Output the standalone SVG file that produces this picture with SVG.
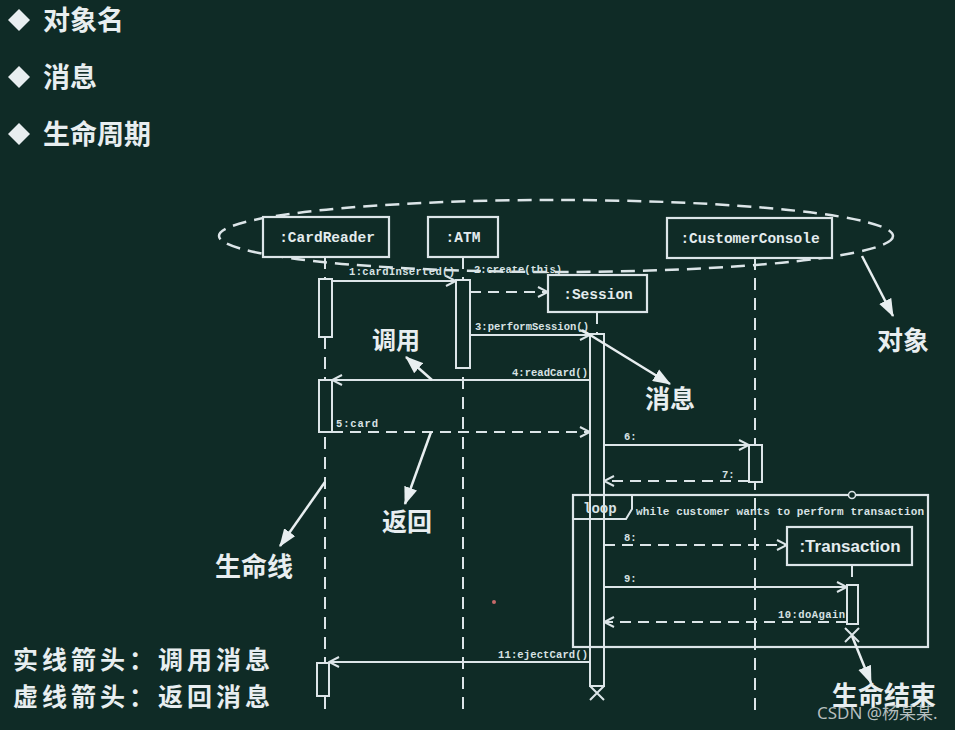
<svg xmlns="http://www.w3.org/2000/svg" width="955" height="730" viewBox="0 0 955 730">
<defs>
<marker id="open" viewBox="0 0 12 12" refX="11" refY="6" markerWidth="12" markerHeight="12" markerUnits="userSpaceOnUse" orient="auto"><path d="M1,1 L11,6 L1,11" fill="none" stroke="#dce5e8" stroke-width="2"/></marker>
<marker id="solidhead" viewBox="0 0 16 12" refX="15" refY="6" markerWidth="18" markerHeight="14" markerUnits="userSpaceOnUse" orient="auto"><path d="M0,0 L16,6 L0,12 z" fill="#e8eef0"/></marker>
<style>
.bg{fill:#0f2b26}
.box{fill:#0f2b26;stroke:#dce5e8;stroke-width:2.2}
.act{fill:#0f2b26;stroke:#dce5e8;stroke-width:2}
.life{stroke:#dce5e8;stroke-width:2;stroke-dasharray:12 8;fill:none}
.call{stroke:#dce5e8;stroke-width:2;fill:none;marker-end:url(#open)}
.ret{stroke:#dce5e8;stroke-width:2;stroke-dasharray:11 7;fill:none;marker-end:url(#open)}
.note{stroke:#e8eef0;stroke-width:2.5;fill:none;marker-end:url(#solidhead)}
.obj{font-family:"Liberation Mono",monospace;font-weight:bold;font-size:14.5px;fill:#e4ecee;text-anchor:middle}
.msg{font-family:"Liberation Mono",monospace;font-weight:bold;font-size:10.5px;fill:#d8e2e4}
.cjk{font-family:"Noto Sans CJK SC","Noto Sans CJK TC",sans-serif;font-weight:bold;fill:#e8eef0}
.xmark{stroke:#dce5e8;stroke-width:2;fill:none}
</style>
</defs>
<rect class="bg" x="0" y="0" width="955" height="730"/>

<g id="bullets">
<polygon points="19,9 30,20 19,31 8,20" fill="#e8eef0"/>
<text class="cjk" x="43" y="30" font-size="27">对象名</text>
<polygon points="19,66 30,77 19,88 8,77" fill="#e8eef0"/>
<text class="cjk" x="43" y="87" font-size="27">消息</text>
<polygon points="19,123 30,134 19,145 8,134" fill="#e8eef0"/>
<text class="cjk" x="43" y="144" font-size="27">生命周期</text>
</g>

<g id="objects-ellipse">
<ellipse cx="556" cy="236" rx="337" ry="36" fill="none" stroke="#dce5e8" stroke-width="2.5" stroke-dasharray="14 8"/>
</g>

<g id="lifelines">
<line class="life" x1="325" y1="257" x2="325" y2="710"/>
<line class="life" x1="463" y1="257" x2="463" y2="710"/>
<line class="life" x1="597" y1="312" x2="597" y2="334"/>
<line class="life" x1="755" y1="258" x2="755" y2="710"/>
<line class="life" x1="852" y1="565" x2="852" y2="585"/>
</g>

<g id="CardReader">
<rect class="box" x="263" y="217" width="126" height="40"/>
<text class="obj" x="327" y="242">:CardReader</text>
<rect class="act" x="319" y="279" width="13" height="58"/>
<rect class="act" x="319" y="380" width="13" height="52"/>
<rect class="act" x="317" y="663" width="12" height="33"/>
</g>

<g id="ATM">
<rect class="box" x="428" y="217" width="70" height="40"/>
<text class="obj" x="463" y="242">:ATM</text>
<rect class="act" x="456" y="280" width="14" height="88"/>
</g>

<g id="Session">
<rect class="box" x="548" y="275" width="99" height="37"/>
<text class="obj" x="598" y="299">:Session</text>
<rect class="act" x="590" y="334" width="14" height="352"/>
<path class="xmark" d="M590,686 L604,700 M604,686 L590,700"/>
</g>

<g id="loop-frame">
<rect x="573" y="495" width="355" height="152" fill="none" stroke="#dce5e8" stroke-width="2.2"/>
<path d="M573,495 L632,495 L632,509 L626,519 L573,519" fill="none" stroke="#dce5e8" stroke-width="2"/>
<text class="msg" x="583" y="513" style="font-size:14px">loop</text>
<text class="msg" x="636" y="515" style="font-size:11px" textLength="288">while customer wants to perform transaction</text>
<circle cx="852" cy="495" r="3.5" fill="#0f2b26" stroke="#dce5e8" stroke-width="1.5"/>
</g>

<g id="CustomerConsole">
<rect class="box" x="667" y="218" width="165" height="40"/>
<text class="obj" x="750" y="243">:CustomerConsole</text>
<rect class="act" x="749" y="445" width="13" height="37"/>
</g>

<g id="Transaction">
<rect class="box" x="787" y="527" width="125" height="38"/>
<text x="850" y="552" font-family="Liberation Sans, Arial, sans-serif" font-weight="bold" font-size="17" fill="#e4ecee" text-anchor="middle">:Transaction</text>
<rect class="act" x="847" y="585" width="11" height="39"/>
<path class="xmark" d="M845,628 L859,642 M859,628 L845,642"/>
</g>

<g id="connectors">
<line class="call" x1="332" y1="281" x2="456" y2="281"/>
<text class="msg" x="349" y="275" textLength="106">1:cardInserted()</text>
<line class="ret" x1="470" y1="292" x2="548" y2="292"/>
<text class="msg" x="474" y="273" textLength="88">2:create(this)</text>
<line class="call" x1="470" y1="335" x2="590" y2="335"/>
<text class="msg" x="475" y="330" textLength="114">3:performSession()</text>
<line class="call" x1="590" y1="380" x2="332" y2="380"/>
<text class="msg" x="512" y="376" textLength="76">4:readCard()</text>
<line class="ret" x1="332" y1="432" x2="590" y2="432"/>
<text class="msg" x="336" y="427" textLength="42">5:card</text>
<line class="call" x1="604" y1="445" x2="749" y2="445"/>
<text class="msg" x="624" y="440">6:</text>
<line class="ret" x1="749" y1="481" x2="604" y2="481"/>
<text class="msg" x="722" y="478">7:</text>
<line class="ret" x1="604" y1="545" x2="787" y2="545"/>
<text class="msg" x="624" y="541">8:</text>
<line class="call" x1="604" y1="587" x2="847" y2="587"/>
<text class="msg" x="624" y="582">9:</text>
<line class="ret" x1="847" y1="622" x2="604" y2="622"/>
<text class="msg" x="778" y="618" textLength="67">10:doAgain</text>
<line class="call" x1="590" y1="662" x2="329" y2="662"/>
<text class="msg" x="498" y="658" textLength="90">11:ejectCard()</text>
</g>

<g id="annotations">
<line class="note" x1="432" y1="380" x2="406" y2="357"/>
<text class="cjk" x="372" y="349" font-size="24">调用</text>
<line class="note" x1="582" y1="330" x2="670" y2="384"/>
<text class="cjk" x="645" y="408" font-size="25">消息</text>
<line class="note" x1="862" y1="256" x2="893" y2="316"/>
<text class="cjk" x="877" y="350" font-size="26">对象</text>
<line class="note" x1="431" y1="432" x2="405" y2="504"/>
<text class="cjk" x="382" y="531" font-size="25">返回</text>
<line class="note" x1="325" y1="482" x2="280" y2="546"/>
<text class="cjk" x="215" y="576" font-size="26">生命线</text>
<line class="note" x1="852" y1="636" x2="871" y2="683"/>
<text class="cjk" x="832" y="705" font-size="26">生命结束</text>
<text class="cjk" x="13" y="669" font-size="25" letter-spacing="4">实线箭头：调用消息</text>
<text class="cjk" x="13" y="706" font-size="25" letter-spacing="4">虚线箭头：返回消息</text>
</g>

<circle cx="494" cy="602" r="2" fill="#c76a6a"/>
<text x="817" y="719" font-family="Noto Sans, Noto Sans CJK SC, sans-serif" font-size="17" fill="#d4dadb" fill-opacity="0.85">CSDN @杨某某.</text>
</svg>
